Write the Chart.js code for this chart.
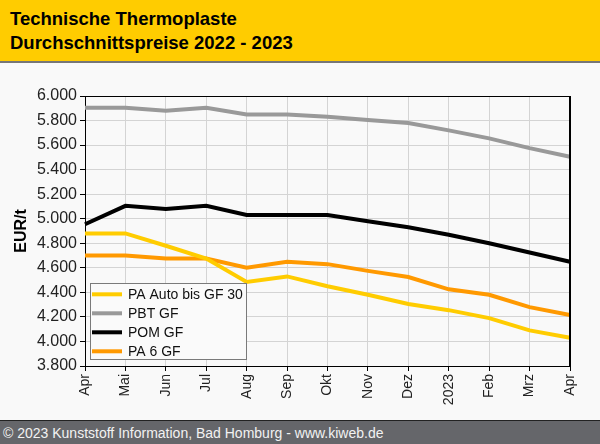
<!DOCTYPE html>
<html><head><meta charset="utf-8">
<script src="https://cdn.jsdelivr.net/npm/chart.js@4/dist/chart.umd.min.js"></script>
<style>
html,body{margin:0;padding:0;background:#f9f9f9;width:600px;height:444px;overflow:hidden;font-family:"Liberation Sans",Arial,sans-serif;}
#hdr{position:absolute;left:0;top:0;width:600px;height:61px;background:#FFCC00;border-bottom:2px solid #777;}
#hdr div{position:absolute;left:10px;font-weight:bold;font-size:18.5px;color:#000;white-space:nowrap;line-height:1;}
#ftr{position:absolute;left:0;top:420px;width:600px;height:23px;background:#65666a;border-top:1px solid #222;}
#ftr div{position:absolute;left:3px;top:5px;font-size:14px;color:#f2f2f2;white-space:nowrap;line-height:1;}
#c{position:absolute;left:0;top:63px;}
</style></head>
<body>
<div id="hdr"><div style="top:10px">Technische Thermoplaste</div><div style="top:34px">Durchschnittspreise 2022 - 2023</div></div>
<canvas id="c" width="600" height="357"></canvas>
<div id="ftr"><div>© 2023 Kunststoff Information, Bad Homburg - www.kiweb.de</div></div>
<script>
const categories = ["Apr","Mai","Jun","Jul","Aug","Sep","Okt","Nov","Dez","2023","Feb","Mrz","Apr"];
const paAuto = [4880,4880,4780,4675,4485,4530,4450,4380,4305,4255,4190,4090,4030];
const pbtGF  = [5905,5905,5880,5905,5850,5850,5830,5805,5780,5720,5655,5575,5505];
const pomGF  = [4955,5105,5080,5105,5030,5030,5030,4980,4930,4870,4800,4725,4650];
const pa6GF  = [4700,4700,4675,4675,4600,4650,4630,4575,4525,4425,4380,4280,4215];
const seriesNames = ["PA Auto bis GF 30","PBT GF","POM GF","PA 6 GF"];
const seriesColors = ["#FFCC00","#999999","#000000","#FF9900"];
const yMin = 3800, yMax = 6000, yStep = 200;

const fmt = v => { const s = String(Math.round(v)); return s.slice(0, s.length-3) + "." + s.slice(-3); };

const frame = {
  id:'frame',
  afterDatasetsDraw(chart){
    const a = chart.chartArea, ctx = chart.ctx;
    ctx.save();
    ctx.strokeStyle = '#000';
    ctx.lineWidth = 1;
    ctx.beginPath();
    ctx.moveTo(a.left, a.top+0.5); ctx.lineTo(a.right, a.top+0.5);
    ctx.stroke();
    ctx.lineWidth = 2;
    ctx.beginPath();
    ctx.moveTo(a.right, a.top); ctx.lineTo(a.right, a.bottom);
    ctx.stroke();
    // legend
    const bx = a.left + 5.5, bw = 156, bh = 76;
    const by = a.bottom - 7 - bh + 0.5;
    ctx.fillStyle = '#fafafa';
    ctx.fillRect(bx, by, bw, bh);
    ctx.strokeStyle = '#7a7a7a';
    ctx.lineWidth = 1;
    ctx.strokeRect(bx, by, bw, bh);
    ctx.font = '14px "Liberation Sans", Arial, sans-serif';
    ctx.textBaseline = 'middle';
    chart.data.datasets.forEach((ds,i) => {
      const cy = by + 10.8 + i*19;
      ctx.strokeStyle = ds.borderColor;
      ctx.lineWidth = 4;
      ctx.beginPath(); ctx.moveTo(bx+1.5, cy); ctx.lineTo(bx+31.5, cy); ctx.stroke();
      ctx.fillStyle = '#111';
      ctx.fillText(ds.label, bx+37.5, cy+0.5);
    });
    ctx.restore();
  }
};

new Chart(document.getElementById('c'), {
  type:'line',
  data:{
    labels: categories,
    datasets: [paAuto, pbtGF, pomGF, pa6GF].map((d,i) => ({
      label: seriesNames[i], data: d, borderColor: seriesColors[i], backgroundColor: seriesColors[i],
      borderWidth: 4, pointRadius: 0, tension: 0, fill:false
    }))
  },
  options:{
    responsive:false, animation:false,
    layout:{padding:{top:33,right:30,left:0,bottom:0}},
    plugins:{legend:{display:false}, tooltip:{enabled:false}},
    scales:{
      x:{
        offset:false,
        grid:{color:'#d4d4d4', lineWidth:1, tickColor:'#000', tickLength:5},
        border:{color:'#000', width:1},
        ticks:{color:'#222', font:{family:'"Liberation Sans", Arial, sans-serif', size:14}, minRotation:90, maxRotation:90, padding:3, autoSkip:false},
        afterFit(s){ s.height = 54; }
      },
      y:{
        min:yMin, max:yMax,
        grid:{color:'#d4d4d4', lineWidth:1, tickColor:'#000', tickLength:5},
        border:{color:'#000', width:1},
        ticks:{stepSize:yStep, color:'#222', font:{family:'"Liberation Sans", Arial, sans-serif', size:16}, padding:3, callback:v=>fmt(v)},
        title:{display:true, text:'EUR/t', color:'#000', font:{family:'"Liberation Sans", Arial, sans-serif', size:16, weight:'bold'}, padding:{top:12,bottom:0}},
        afterFit(s){ s.width = 85; }
      }
    }
  },
  plugins:[frame]
});
</script>
</body></html>
